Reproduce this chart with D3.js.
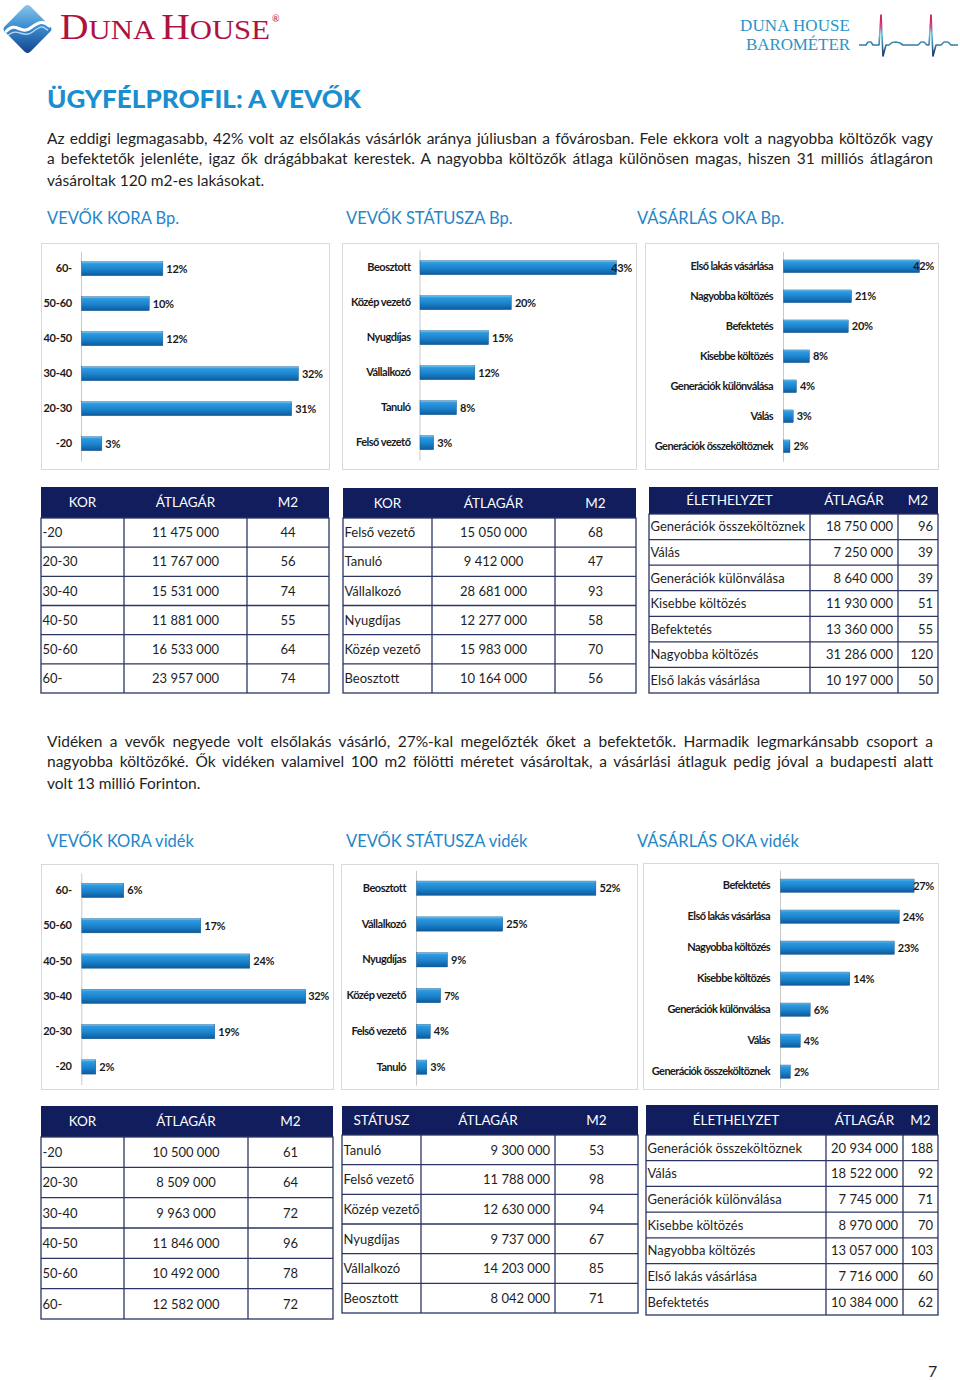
<!DOCTYPE html>
<html><head><meta charset="utf-8">
<script src="https://cdn.jsdelivr.net/npm/d3@7"></script>
<style>
body{margin:0;background:#fff}
svg{display:block}
text{font-family:Lato,"Open Sans",sans-serif}
</style>
</head><body>
<svg id="c" width="960" height="1380"></svg>
<script>
// ---------------- DATA ----------------
const ageCats = ["60-", "50-60", "40-50", "30-40", "20-30", "-20"];
const ageBp = [12, 10, 12, 32, 31, 3];
const ageVid = [6, 17, 24, 32, 19, 2];

const statusCatsBp = ["Beosztott", "Közép vezető", "Nyugdíjas", "Vállalkozó", "Tanuló", "Felső vezető"];
const statusBp = [43, 20, 15, 12, 8, 3];
const statusCatsVid = ["Beosztott", "Vállalkozó", "Nyugdíjas", "Közép vezető", "Felső vezető", "Tanuló"];
const statusVid = [52, 25, 9, 7, 4, 3];

const reasonCatsBp = ["Első lakás vásárlása", "Nagyobba költözés", "Befektetés", "Kisebbe költözés", "Generációk különválása", "Válás", "Generációk összeköltöznek"];
const reasonBp = [42, 21, 20, 8, 4, 3, 2];
const reasonCatsVid = ["Befektetés", "Első lakás vásárlása", "Nagyobba költözés", "Kisebbe költözés", "Generációk különválása", "Válás", "Generációk összeköltöznek"];
const reasonVid = [27, 24, 23, 14, 6, 4, 2];

// tables
const tAgeBpCats = ["-20", "20-30", "30-40", "40-50", "50-60", "60-"];
const tAgeBpPrice = [11475000, 11767000, 15531000, 11881000, 16533000, 23957000];
const tAgeBpM2 = [44, 56, 74, 55, 64, 74];

const tStatusBpCats = ["Felső vezető", "Tanuló", "Vállalkozó", "Nyugdíjas", "Közép vezető", "Beosztott"];
const tStatusBpPrice = [15050000, 9412000, 28681000, 12277000, 15983000, 10164000];
const tStatusBpM2 = [68, 47, 93, 58, 70, 56];

const tReasonBpCats = ["Generációk összeköltöznek", "Válás", "Generációk különválása", "Kisebbe költözés", "Befektetés", "Nagyobba költözés", "Első lakás vásárlása"];
const tReasonBpPrice = [18750000, 7250000, 8640000, 11930000, 13360000, 31286000, 10197000];
const tReasonBpM2 = [96, 39, 39, 51, 55, 120, 50];

const tAgeVidCats = ["-20", "20-30", "30-40", "40-50", "50-60", "60-"];
const tAgeVidPrice = [10500000, 8509000, 9963000, 11846000, 10492000, 12582000];
const tAgeVidM2 = [61, 64, 72, 96, 78, 72];

const tStatusVidCats = ["Tanuló", "Felső vezető", "Közép vezető", "Nyugdíjas", "Vállalkozó", "Beosztott"];
const tStatusVidPrice = [9300000, 11788000, 12630000, 9737000, 14203000, 8042000];
const tStatusVidM2 = [53, 98, 94, 67, 85, 71];

const tReasonVidCats = ["Generációk összeköltöznek", "Válás", "Generációk különválása", "Kisebbe költözés", "Nagyobba költözés", "Első lakás vásárlása", "Befektetés"];
const tReasonVidPrice = [20934000, 18522000, 7745000, 8970000, 13057000, 7716000, 10384000];
const tReasonVidM2 = [188, 92, 71, 70, 103, 60, 62];

const headAge = ["KOR", "ÁTLAGÁR", "M2"];
const headStatusBp = ["KOR", "ÁTLAGÁR", "M2"];
const headStatusVid = ["STÁTUSZ", "ÁTLAGÁR", "M2"];
const headReason = ["ÉLETHELYZET", "ÁTLAGÁR", "M2"];

const sectionLabelsBp = ["VEVŐK KORA Bp.", "VEVŐK STÁTUSZA Bp.", "VÁSÁRLÁS OKA Bp."];
const sectionLabelsVid = ["VEVŐK KORA vidék", "VEVŐK STÁTUSZA vidék", "VÁSÁRLÁS OKA vidék"];

const para1 = [
  "Az eddigi legmagasabb, 42% volt az elsőlakás vásárlók aránya júliusban a fővárosban. Fele ekkora volt a nagyobba költözők vagy",
  "a befektetők jelenléte, igaz ők drágábbakat kerestek. A nagyobba költözők átlaga különösen magas, hiszen 31 milliós átlagáron",
  "vásároltak 120 m2-es lakásokat."
];
const para2 = [
  "Vidéken a vevők negyede volt elsőlakás vásárló, 27%-kal megelőzték őket a befektetők. Harmadik legmarkánsabb csoport a",
  "nagyobba költözőké. Ők vidéken valamivel 100 m2 fölötti méretet vásároltak, a vásárlási átlaguk pedig jóval a budapesti alatt",
  "volt 13 millió Forinton."
];

// ---------------- DRAW ----------------
const svg = d3.select("#c");
const defs = svg.append("defs");
const BLUE_TXT = "#1f86c8";
const NAVY = "#111d5c";

const bg = defs.append("linearGradient").attr("id", "barG").attr("x1", 0).attr("y1", 0).attr("x2", 0).attr("y2", 1);
[["0%", "#7cc8f2"], ["14%", "#2d9ae0"], ["55%", "#1b82cb"], ["100%", "#0d5a9c"]].forEach(([o, c]) => bg.append("stop").attr("offset", o).attr("stop-color", c));

const lg = defs.append("linearGradient").attr("id", "logoG").attr("x1", 0).attr("y1", 0).attr("x2", 1).attr("y2", 1);
[["0%", "#8fc8ee"], ["45%", "#3b8fd0"], ["100%", "#123f8c"]].forEach(([o, c]) => lg.append("stop").attr("offset", o).attr("stop-color", c));

const eg = defs.append("linearGradient").attr("id", "ecgG").attr("gradientUnits", "userSpaceOnUse").attr("x1", 0).attr("y1", 15).attr("x2", 0).attr("y2", 57);
[["0%", "#c8134a"], ["25%", "#d8407a"], ["45%", "#5cc3d8"], ["75%", "#2f6f9c"], ["100%", "#1a2a5c"]].forEach(([o, c]) => eg.append("stop").attr("offset", o).attr("stop-color", c));

// ---- header logo ----
const logo = svg.append("g").attr("transform", "translate(27.5,29)");
logo.append("rect").attr("x", -18).attr("y", -18).attr("width", 36).attr("height", 36).attr("rx", 4)
  .attr("transform", "rotate(45)").attr("fill", "url(#logoG)");
logo.append("path").attr("d", "M-21,2 C-12,-8 -6,6 3,-1 S16,-8 22,-3").attr("fill", "none").attr("stroke", "#fff").attr("stroke-width", 3.2).attr("stroke-linecap", "round");
logo.append("path").attr("d", "M-19,6 C-10,-2 -4,10 5,3 S15,-3 20,1").attr("fill", "none").attr("stroke", "#d8ecfa").attr("stroke-width", 1.4).attr("stroke-linecap", "round").attr("opacity", 0.8);

const brand = svg.append("text").attr("x", 60).attr("y", 39).attr("fill", "#b0123f")
  .style("font-family", "'Liberation Serif', serif").attr("textLength", 210).attr("lengthAdjust", "spacingAndGlyphs");
brand.append("tspan").attr("font-size", 36).text("D");
brand.append("tspan").attr("font-size", 28).text("UNA ");
brand.append("tspan").attr("font-size", 36).text("H");
brand.append("tspan").attr("font-size", 28).text("OUSE");
svg.append("text").attr("x", 272).attr("y", 22).attr("font-size", 9).attr("fill", "#b0123f").text("®");

svg.append("text").attr("x", 850).attr("y", 30.5).attr("text-anchor", "end").attr("font-size", 17)
  .style("font-family", "'Liberation Serif', serif").attr("fill", "#2b93c7").attr("textLength", 110).text("DUNA HOUSE");
svg.append("text").attr("x", 850).attr("y", 50).attr("text-anchor", "end").attr("font-size", 17)
  .style("font-family", "'Liberation Serif', serif").attr("fill", "#2b93c7").attr("textLength", 104).text("BAROMÉTER");
const ecgPts = [[859,45],[866,45],[868,42],[871,42],[873,45],[879,45],[881,15],[883,56],[886,45],[889,45],[892,42.5],[896,42],[900,43],[903,45],[918,45],[921,42],[924,42],[927,45],[929,45],[931,15],[933,56],[936,45],[941,45],[944,42],[948,42],[951,45],[958,45]];
svg.append("path").attr("d", d3.line()(ecgPts)).attr("fill", "none").attr("stroke", "url(#ecgG)").attr("stroke-width", 1.6).attr("stroke-linejoin", "round");

// ---- title ----
svg.append("text").attr("x", 47).attr("y", 107.5).attr("font-size", 25).attr("font-weight", 900)
  .attr("fill", "#1b8ed0").attr("textLength", 314).attr("lengthAdjust", "spacingAndGlyphs").text("ÜGYFÉLPROFIL: A VEVŐK");

// ---- paragraphs ----
function paragraph(lines, baselines) {
  lines.forEach((ln, i) => {
    const t = svg.append("text").attr("x", 47).attr("y", baselines[i]).attr("font-size", 15.5).attr("fill", "#1e1e1e").text(ln);
    if (i < lines.length - 1) {
      const len = t.node().getComputedTextLength();
      const sp = (ln.match(/ /g) || []).length;
      t.style("word-spacing", ((886 - len) / sp) + "px");
    }
  });
}
paragraph(para1, [143.5, 163.5, 186]);
paragraph(para2, [746.5, 766.5, 789]);

// ---- section labels ----
const secX = [47, 346, 637];
function sections(labels, y) {
  svg.append("g").selectAll("text").data(labels).join("text")
    .attr("x", (d, i) => secX[i]).attr("y", y).attr("font-size", 16.5).attr("fill", BLUE_TXT).text(d => d);
}
sections(sectionLabelsBp, 224);
sections(sectionLabelsVid, 847);

// ---- bar panels ----
function barPanel(cats, vals, cfg) {
  const g = svg.append("g");
  const [bx0, by0, bx1, by1] = cfg.box;
  g.append("rect").attr("x", bx0 + 0.5).attr("y", by0 + 0.5).attr("width", bx1 - bx0).attr("height", by1 - by0)
    .attr("fill", "#fff").attr("stroke", "#d9d9d9");
  const n = cats.length;
  const y = d3.scaleBand().domain(cats).range([cfg.y0, cfg.y0 + n * cfg.step]).paddingInner(cfg.pad).paddingOuter(cfg.pad / 2);
  const x = d3.scaleLinear().domain([0, 100]).range([cfg.ax, cfg.ax + 100 * cfg.ppc]);
  const axis = g.append("g").attr("transform", `translate(${cfg.ax},0)`)
    .call(d3.axisLeft(y).tickSize(0).tickPadding(cfg.gap));
  axis.select(".domain").attr("stroke", "#c9c9c9");
  axis.selectAll("text").attr("font-size", cfg.fs).attr("font-weight", 700).attr("fill", "#1a1a1a")
    .style("font-family", "Lato, sans-serif").style("letter-spacing", cfg.ls + "px");
  const data = cats.map((c, i) => ({c, v: vals[i]}));
  g.selectAll(".bar").data(data).join("rect").attr("class", "bar")
    .attr("x", x(0) + 0.5).attr("y", d => y(d.c)).attr("width", d => x(d.v) - x(0)).attr("height", y.bandwidth())
    .attr("fill", "url(#barG)").attr("stroke", "#0c4f8a").attr("stroke-width", 0.4);
  const lbl = g.selectAll(".val").data(data).join("text").attr("class", "val")
    .attr("y", d => y(d.c) + y.bandwidth() / 2).attr("dy", "0.36em")
    .attr("font-size", cfg.vfs).attr("font-weight", 700).attr("fill", "#1a1a1a").style("letter-spacing", "-0.3px")
    .text(d => d.v + "%");
  lbl.each(function (d) {
    const w = this.getComputedTextLength();
    d3.select(this).attr("x", Math.min(x(d.v) + 4, bx1 - 4 - w));
  });
}
barPanel(ageCats, ageBp, {box: [41, 243, 329, 469], ax: 81, y0: 251.2, step: 35, pad: 0.6, ppc: 6.78, gap: 9, fs: 11, ls: -0.2, vfs: 11});
barPanel(statusCatsBp, statusBp, {box: [342, 243, 636, 469], ax: 419.5, y0: 250.2, step: 35, pad: 0.6, ppc: 4.57, gap: 9, fs: 11, ls: -0.5, vfs: 11});
barPanel(reasonCatsBp, reasonBp, {box: [645, 243, 938, 469], ax: 783, y0: 251.3, step: 30, pad: 0.577, ppc: 3.24, gap: 10, fs: 11, ls: -0.6, vfs: 11});
barPanel(ageCats, ageVid, {box: [41, 864, 333, 1089], ax: 81.3, y0: 872.8, step: 35.3, pad: 0.595, ppc: 7.0, gap: 9.5, fs: 11, ls: -0.2, vfs: 11});
barPanel(statusCatsVid, statusVid, {box: [341, 864, 637, 1089], ax: 416, y0: 870.3, step: 35.8, pad: 0.6, ppc: 3.45, gap: 10, fs: 11, ls: -0.5, vfs: 11});
barPanel(reasonCatsVid, reasonVid, {box: [643, 863, 938, 1089], ax: 780, y0: 870.2, step: 31, pad: 0.57, ppc: 4.95, gap: 10, fs: 11, ls: -0.6, vfs: 11});

// ---- tables ----
const fmt = d3.formatLocale({decimal: ",", thousands: " ", grouping: [3], currency: ["", ""]}).format(",d");
function table(head, cats, prices, m2, cfg) {
  const g = svg.append("g");
  const cols = cfg.cols;
  const [h0, h1, yEnd] = cfg.rows;
  const y = d3.scaleBand().domain(cats).range([h1, yEnd]);
  g.append("rect").attr("x", cols[0]).attr("y", h0).attr("width", cols[3] - cols[0]).attr("height", h1 - h0).attr("fill", NAVY);
  g.selectAll(".h").data(head).join("text").attr("class", "h")
    .attr("x", (d, i) => (cols[i] + cols[i + 1]) / 2).attr("y", (h0 + h1) / 2).attr("dy", "0.36em")
    .attr("text-anchor", "middle").attr("font-size", 13.5).attr("fill", "#fff").text(d => d);
  const rows = cats.map((c, i) => [c, fmt(prices[i]), String(m2[i])]);
  const lineC = "#2c3564";
  g.append("rect").attr("x", cols[0]).attr("y", h1).attr("width", cols[3] - cols[0]).attr("height", yEnd - h1)
    .attr("fill", "none").attr("stroke", lineC).attr("stroke-width", 1.3);
  g.selectAll(".hl").data(cats.slice(1)).join("line").attr("class", "hl")
    .attr("x1", cols[0]).attr("x2", cols[3]).attr("y1", d => y(d)).attr("y2", d => y(d)).attr("stroke", lineC).attr("stroke-width", 1.3);
  g.selectAll(".vl").data([cols[1], cols[2]]).join("line").attr("class", "vl")
    .attr("x1", d => d).attr("x2", d => d).attr("y1", h1).attr("y2", yEnd).attr("stroke", lineC).attr("stroke-width", 1.3);
  const anchors = cfg.align;
  rows.forEach((r, ri) => {
    r.forEach((cell, ci) => {
      let x;
      if (anchors[ci] === "start") x = cols[ci] + 1.5;
      else if (anchors[ci] === "middle") x = (cols[ci] + cols[ci + 1]) / 2;
      else x = cols[ci + 1] - 5;
      g.append("text").attr("x", x).attr("y", y(cats[ri]) + y.bandwidth() / 2).attr("dy", "0.36em")
        .attr("text-anchor", anchors[ci]).attr("font-size", 13).attr("fill", "#1e1e1e").text(cell);
    });
  });
}
table(headAge, tAgeBpCats, tAgeBpPrice, tAgeBpM2, {cols: [41, 124, 247, 329], rows: [487, 518, 693], align: ["start", "middle", "middle"]});
table(headStatusBp, tStatusBpCats, tStatusBpPrice, tStatusBpM2, {cols: [343, 432, 555, 636], rows: [488, 518, 693], align: ["start", "middle", "middle"]});
table(headReason, tReasonBpCats, tReasonBpPrice, tReasonBpM2, {cols: [649, 810, 898, 938], rows: [487, 514, 693], align: ["start", "end", "end"]});
table(headAge, tAgeVidCats, tAgeVidPrice, tAgeVidM2, {cols: [41, 124, 248, 333], rows: [1106, 1137, 1319], align: ["start", "middle", "middle"]});
table(headStatusVid, tStatusVidCats, tStatusVidPrice, tStatusVidM2, {cols: [342, 421, 555, 638], rows: [1106, 1135, 1313], align: ["start", "end", "middle"]});
table(headReason, tReasonVidCats, tReasonVidPrice, tReasonVidM2, {cols: [646, 826, 903, 938], rows: [1105, 1135, 1315], align: ["start", "end", "end"]});

// page number
svg.append("text").attr("x", 928).attr("y", 1377).attr("font-size", 16).attr("fill", "#1e1e1e").text("7");
</script>
</body></html>
